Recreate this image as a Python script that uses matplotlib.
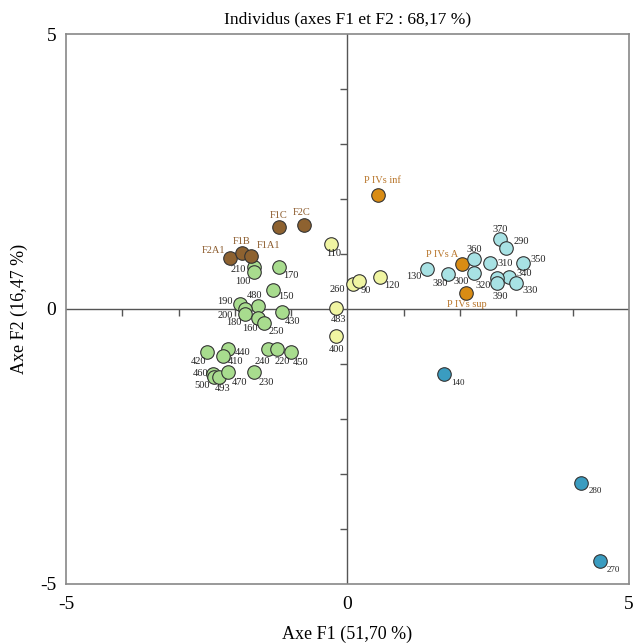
import matplotlib
matplotlib.use("Agg")
import matplotlib.pyplot as plt

# --- données ---
green_labels = ["210", "100", "170", "150", "480", "190", "200", "180", "160", "250", "430",
                "420", "440", "410", "240", "220", "450", "460", "500", "493", "470", "230"]
green_x = [-1.66, -1.66, -1.21, -1.33, -1.59, -1.91, -1.82, -1.82, -1.59, -1.49, -1.16,
           -2.50, -2.12, -2.21, -1.42, -1.25, -1.00, -2.38, -2.37, -2.28, -2.12, -1.66]
green_y = [0.77, 0.68, 0.76, 0.35, 0.05, 0.09, 0.00, -0.09, -0.16, -0.26, -0.05,
           -0.78, -0.73, -0.86, -0.73, -0.73, -0.78, -1.18, -1.24, -1.24, -1.15, -1.15]

brown_labels = ["F1C", "F2C", "F2A1", "F1B", "F1A1"]
brown_x = [-1.21, -0.78, -2.08, -1.88, -1.71]
brown_y = [1.49, 1.53, 0.93, 1.02, 0.97]

yellow_labels = ["110", "260", "90", "120", "483", "400"]
yellow_x = [-0.29, 0.09, 0.21, 0.58, -0.21, -0.21]
yellow_y = [1.19, 0.46, 0.50, 0.59, 0.01, -0.50]

orange_labels = ["P IVs inf", "P IVs A", "P IVs sup"]
orange_x = [0.54, 2.03, 2.11]
orange_y = [2.08, 0.81, 0.29]

cyan_labels = ["370", "290", "360", "310", "350", "130", "380", "300", "340", "320", "390", "330"]
cyan_x = [2.70, 2.82, 2.24, 2.53, 3.11, 1.41, 1.78, 2.24, 2.87, 2.65, 2.66, 2.99]
cyan_y = [1.27, 1.10, 0.90, 0.84, 0.84, 0.73, 0.64, 0.65, 0.59, 0.56, 0.47, 0.47]

blue_labels = ["140", "280", "270"]
blue_x = [1.71, 4.15, 4.48]
blue_y = [-1.19, -3.16, -4.59]

# décalage des étiquettes (pixels, dx vers la droite, dy vers le bas)
offsets = {
    "F1C": (-1, -12), "F2C": (-2, -12), "F2A1": (-17, -7), "F1B": (0, -11), "F1A1": (17, -10),
    "210": (-16, 3), "100": (-11, 10), "170": (11, 8), "150": (13, 7), "480": (-3, -11),
    "190": (-15, -3), "200": (-20, 7), "180": (-11, 9), "160": (-8, 11), "250": (13, 8),
    "430": (10, 10), "110": (2, 10), "260": (-15, 6), "483": (3, 11), "400": (1, 13),
    "420": (-8, 10), "440": (14, 3), "410": (12, 5), "240": (-5, 12), "220": (5, 12),
    "450": (9, 11), "460": (-13, 0), "500": (-12, 8), "493": (3, 11), "470": (11, 10),
    "230": (12, 10), "P IVs inf": (5, -14), "P IVs A": (-20, -10), "P IVs sup": (1, 11),
    "370": (1, -10), "290": (15, -7), "360": (1, -10), "310": (15, 1), "350": (16, -3),
    "130": (-13, 8), "380": (-8, 10), "300": (-12, 8), "340": (15, -3), "320": (-13, 7),
    "390": (3, 13), "330": (14, 7), "120": (12, 9), "90": (7, 9),
    "140": (14, 9), "280": (14, 8), "270": (14, 9),
}

plt.rcParams['font.family'] = ['Liberation Serif', 'DejaVu Serif']

fig = plt.figure(figsize=(6.4, 6.44), dpi=100)
ax = fig.add_axes([0.1031, 0.0932, 0.8797, 0.854])
ax.set_xlim(-5, 5)
ax.set_ylim(-5, 5)

# axes centraux avec graduations
ax.axhline(0, color="#555555", lw=1, zorder=1)
ax.axvline(0, color="#555555", lw=1, zorder=1)
for i in range(-4, 5):
    if i == 0:
        continue
    ax.plot(i, 0, marker=3, ms=5, color="#555555", mew=1, zorder=1)
    ax.plot(0, i, marker=0, ms=5, color="#555555", mew=1, zorder=1)

groups = [
    (green_labels, green_x, green_y, "#a8dc8e", "#222222", 7.5),
    (brown_labels, brown_x, brown_y, "#8e6230", "#8b5a2b", 7.5),
    (yellow_labels, yellow_x, yellow_y, "#f0f5a2", "#222222", 7.5),
    (orange_labels, orange_x, orange_y, "#d98c14", "#b8752a", 7.5),
    (cyan_labels, cyan_x, cyan_y, "#a8e2e4", "#222222", 7.5),
    (blue_labels, blue_x, blue_y, "#3a9cc0", "#222222", 6.5),
]

for labels, xs, ys, fc, tc, fs in groups:
    ax.scatter(xs, ys, s=95, facecolor=fc, edgecolor="#333333", linewidth=0.8, zorder=3)
    for lab, x, y in zip(labels, xs, ys):
        dx, dy = offsets[lab]
        ax.annotate(lab, (x, y), xytext=(dx, -dy), textcoords="offset pixels",
                    ha="center", va="center", fontsize=fs, color=tc, zorder=4)

for s in ax.spines.values():
    s.set_color("#888888")
    s.set_linewidth(1.2)

ax.set_xticks([-5, 0, 5])
ax.set_yticks([-5, 0, 5])
ax.set_xticklabels(["-5", "0", "5"])
ax.set_yticklabels(["-5", "0", "5"])
ax.tick_params(length=0, labelsize=14)
ax.tick_params(axis="x", pad=9)
ax.tick_params(axis="y", pad=7)

ax.set_title("Individus (axes F1 et F2 : 68,17 %)", fontsize=12.5, pad=8)
ax.set_xlabel("Axe F1 (51,70 %)", fontsize=13, labelpad=9)
ax.set_ylabel("Axe F2 (16,47 %)", fontsize=13, labelpad=9)

fig.savefig("out.png", dpi=100)
